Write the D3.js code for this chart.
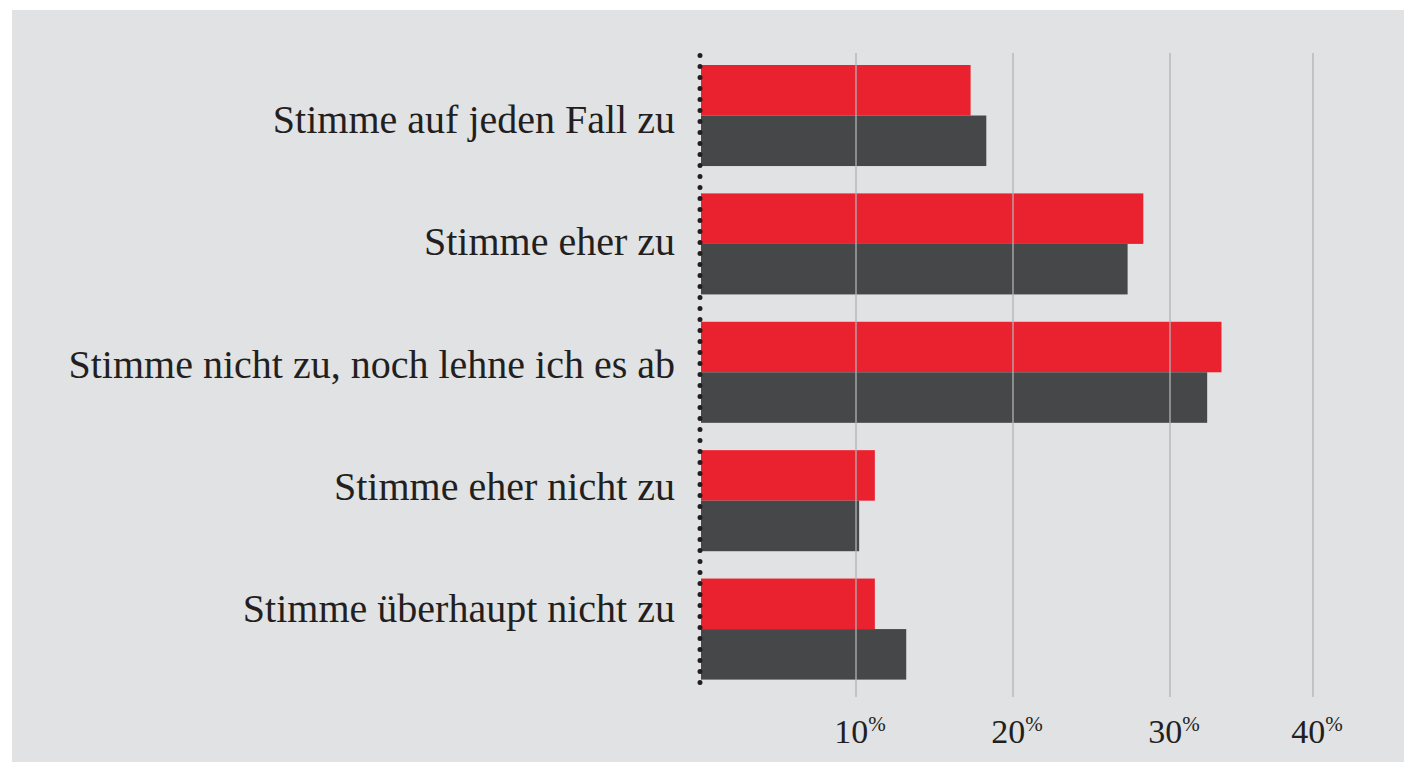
<!DOCTYPE html>
<html>
<head>
<meta charset="utf-8">
<script src="https://cdn.jsdelivr.net/npm/d3@7"></script>
<style>
  html, body { margin:0; padding:0; background:#fff; }
  svg { display:block; }
  text { font-family: "Liberation Serif", "DejaVu Serif", serif; fill:#231f20; }
</style>
</head>
<body>
<div id="chart"></div>
<script>
// categories, top to bottom
const categories = [
  "Stimme auf jeden Fall zu",
  "Stimme eher zu",
  "Stimme nicht zu, noch lehne ich es ab",
  "Stimme eher nicht zu",
  "Stimme überhaupt nicht zu"
];
const series = ["red", "dark"];
// values in percent
const redValues  = [17.3, 28.3, 33.6, 11.2, 11.2];
const darkValues = [18.3, 27.3, 32.6, 10.2, 13.2];
const ticks = [10, 20, 30, 40];

const W = 1404, H = 762;
const colors = { red: "#ea212e", dark: "#464749" };

const svg = d3.select('#chart').append('svg').attr('width', W).attr('height', H);

// panel background
svg.append('rect').attr('x', 12).attr('y', 10).attr('width', W-12).attr('height', H-10).attr('fill', '#e1e2e4');

// x scale: the original's 40% line sits a bit closer than the others
const x = d3.scaleLinear().domain([0, 10, 20, 30, 40]).range([700, 856, 1013, 1170, 1313]);
const y = d3.scaleBand().domain(categories).range([65, 679.6]).paddingInner(0.213).paddingOuter(0);
const ySub = d3.scaleBand().domain(series).range([0, y.bandwidth()]);
// labels sit on their own, slightly tighter rhythm
const yLabel = d3.scalePoint().domain(categories).range([133, 622]);

const rows = categories.map((c, i) => ({ cat: c, red: redValues[i], dark: darkValues[i] }));

// bars
const g = svg.append('g');
rows.forEach(r => {
  series.forEach(s => {
    g.append('rect')
      .attr('x', x(0) + 1)
      .attr('y', y(r.cat) + ySub(s))
      .attr('width', x(r[s]) - x(0) - 1)
      .attr('height', ySub.bandwidth())
      .attr('fill', colors[s]);
  });
});

// gridlines (drawn over bars, like the original)
svg.append('g').selectAll('line').data(ticks).enter().append('line')
  .attr('x1', d => x(d)).attr('x2', d => x(d))
  .attr('y1', 53).attr('y2', 697)
  .attr('stroke', '#b1b2b4').attr('stroke-width', 1.3);

// dotted baseline
svg.append('line')
  .attr('x1', x(0)).attr('x2', x(0))
  .attr('y1', 55.5).attr('y2', 690)
  .attr('stroke', '#231f20').attr('stroke-width', 5)
  .attr('stroke-linecap', 'round').attr('stroke-dasharray', '0 11');

// category labels
svg.append('g').selectAll('text').data(categories).enter().append('text')
  .attr('x', 675)
  .attr('y', d => yLabel(d))
  .attr('text-anchor', 'end')
  .attr('font-size', 40)
  .text(d => d);

// tick labels with superscript %
const tl = svg.append('g').selectAll('text').data(ticks).enter().append('text')
  .attr('x', d => x(d) + 4)
  .attr('y', 743)
  .attr('text-anchor', 'middle')
  .attr('font-size', 34);
tl.append('tspan').text(d => d);
tl.append('tspan').attr('font-size', 21).attr('dy', -12).text('%');
</script>
</body>
</html>
